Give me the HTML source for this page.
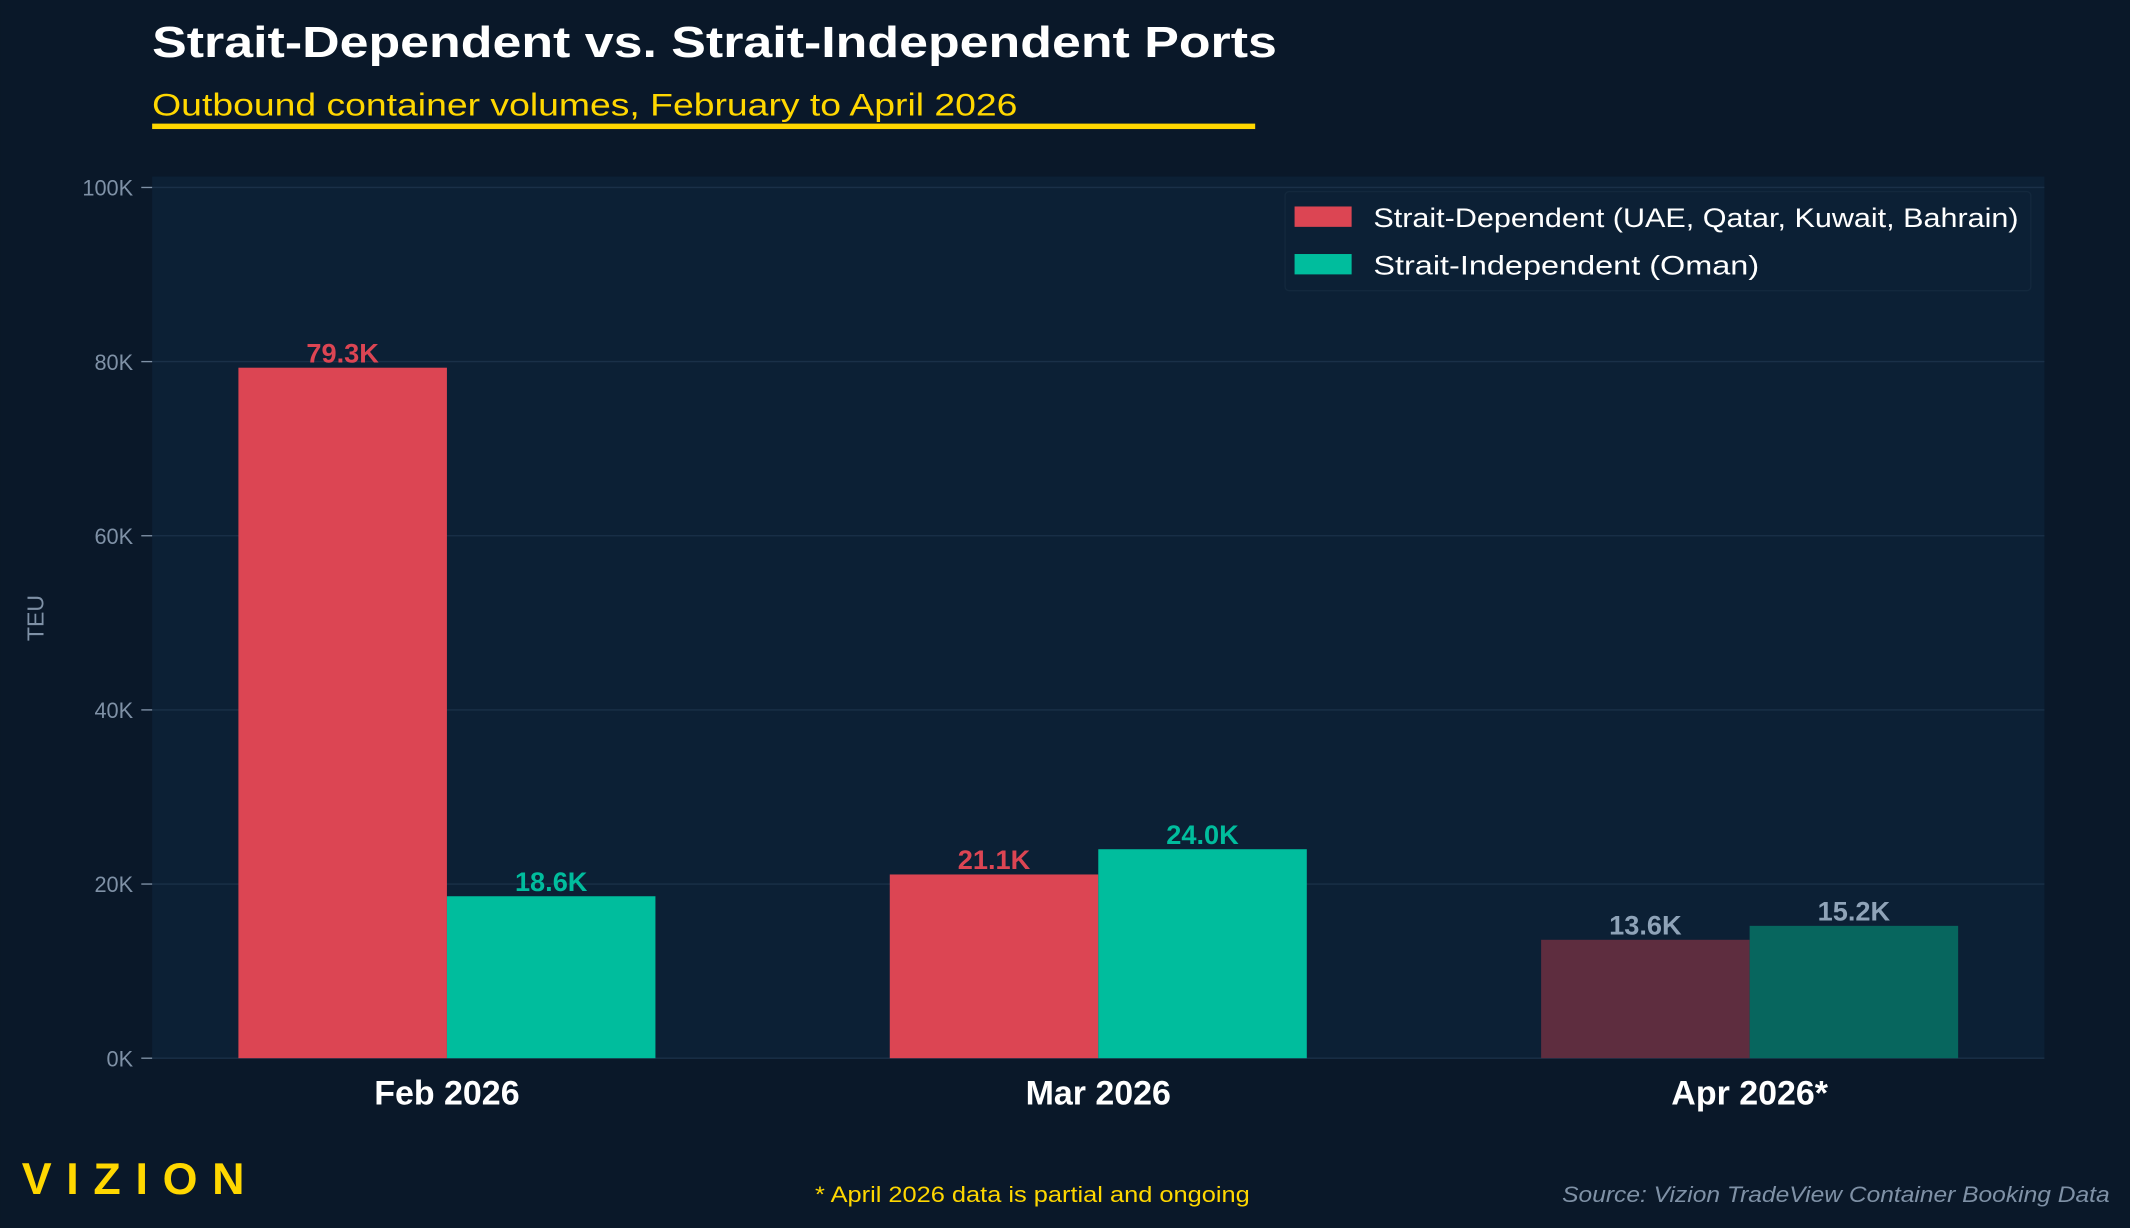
<!DOCTYPE html>
<html><head><meta charset="utf-8"><style>
html,body{margin:0;padding:0;background:#0a1829;}
svg{display:block;font-family:"Liberation Sans",sans-serif;}
</style></head><body>
<svg id="chart" width="2130" height="1228" viewBox="0 0 1568 904">
<rect x="0" y="0" width="1568" height="904" fill="#0a1829"/>
<text x="112" y="42" font-size="32" font-weight="bold" fill="#ffffff" textLength="828" lengthAdjust="spacingAndGlyphs">Strait-Dependent vs. Strait-Independent Ports</text>
<text x="112" y="85" font-size="23" fill="#ffd700" textLength="637" lengthAdjust="spacingAndGlyphs">Outbound container volumes, February to April 2026</text>
<rect x="112" y="91" width="812" height="4" fill="#ffd700"/>
<rect x="112" y="130" width="1393" height="649" fill="#0c2035"/>
<g id="grid"></g>
<g id="bars"></g>
<text transform="translate(32,455) rotate(-90)" text-anchor="middle" font-size="17" fill="#7f91a6">TEU</text>
<g>
<rect x="946" y="141" width="549" height="73" rx="3" fill="#0c2035" stroke="#13283d"/>
<rect x="953" y="152" width="42" height="15" fill="#dc4553"/>
<text x="1011" y="167" font-size="20" fill="#ffffff" textLength="475" lengthAdjust="spacingAndGlyphs">Strait-Dependent (UAE, Qatar, Kuwait, Bahrain)</text>
<rect x="953" y="187" width="42" height="15" fill="#00bd9d"/>
<text x="1011" y="202" font-size="20" fill="#ffffff" textLength="284" lengthAdjust="spacingAndGlyphs">Strait-Independent (Oman)</text>
</g>
<text x="16" y="879" font-size="33" font-weight="bold" fill="#ffd700" textLength="164">VIZION</text>
<text x="600" y="885" font-size="16" fill="#ffd700" textLength="320" lengthAdjust="spacingAndGlyphs">* April 2026 data is partial and ongoing</text>
<text x="1150" y="885" font-size="16" font-style="italic" fill="#7f91a6" textLength="403" lengthAdjust="spacingAndGlyphs">Source: Vizion TradeView Container Booking Data</text>
</svg>
<script>
const categories = ["Feb 2026", "Mar 2026", "Apr 2026*"];
const dependentValues = [79300, 21100, 13600];
const independentValues = [18600, 24000, 15200];
const dependentLabels = ["79.3K", "21.1K", "13.6K"];
const independentLabels = ["18.6K", "24.0K", "15.2K"];
const yTicks = [0, 20000, 40000, 60000, 80000, 100000];
const yTickLabels = ["0K", "20K", "40K", "60K", "80K", "100K"];
const partial = [false, false, true];

const NS = "http://www.w3.org/2000/svg";
const y0 = 779, yTop = 138, yMax = 100000;
function yScale(v){ return y0 - (v / yMax) * (y0 - yTop); }
function xCenter(i){ return 329 + i * 479.5; }
const bw = 153.5;
function mk(tag, attrs, parent){ const e = document.createElementNS(NS, tag); for (const k in attrs) e.setAttribute(k, attrs[k]); parent.appendChild(e); return e; }

const grid = document.getElementById('grid');
yTicks.forEach((t, i) => {
  const y = yScale(t);
  const g = mk('line', {x1:112, x2:1505, y1:y, y2:y, stroke:'#1a3048', 'stroke-width':1}, grid);
  
  
  const tk = mk('line', {x1:104, x2:112, y1:y, y2:y, stroke:'#7f91a6', 'stroke-width':1}, grid);
  
  
  const tl = mk('text', {x:98, y:y+6, 'text-anchor':'end', 'font-size':16, fill:'#7f91a6'}, grid);
  tl.textContent = yTickLabels[i];
  
  
});

const bars = document.getElementById('bars');
categories.forEach((c, i) => {
  const cx = xCenter(i);
  const dy = yScale(dependentValues[i]);
  const r1 = mk('rect', {x:cx-bw, y:dy, width:bw, height:y0-dy, fill: partial[i] ? '#5e2d3f' : '#dc4553'}, bars);
  
  
  const iy = yScale(independentValues[i]);
  const r2 = mk('rect', {x:cx, y:iy, width:bw, height:y0-iy, fill: partial[i] ? '#07665e' : '#00bd9d'}, bars);
  
  
  const l1 = mk('text', {x:cx-bw/2, y:dy-4, 'text-anchor':'middle', 'font-size':20, 'font-weight':'bold', fill: partial[i] ? '#8fa3b8' : '#dc4553'}, bars);
  l1.textContent = dependentLabels[i];
  
  
  const l2 = mk('text', {x:cx+bw/2, y:iy-4, 'text-anchor':'middle', 'font-size':20, 'font-weight':'bold', fill: partial[i] ? '#8fa3b8' : '#00bd9d'}, bars);
  l2.textContent = independentLabels[i];
  
  
  const xl = mk('text', {x:cx, y:813, 'text-anchor':'middle', 'font-size':25, 'font-weight':'bold', fill:'#ffffff'}, bars);
  xl.textContent = c;
  
  
});
</script>
</body></html>
